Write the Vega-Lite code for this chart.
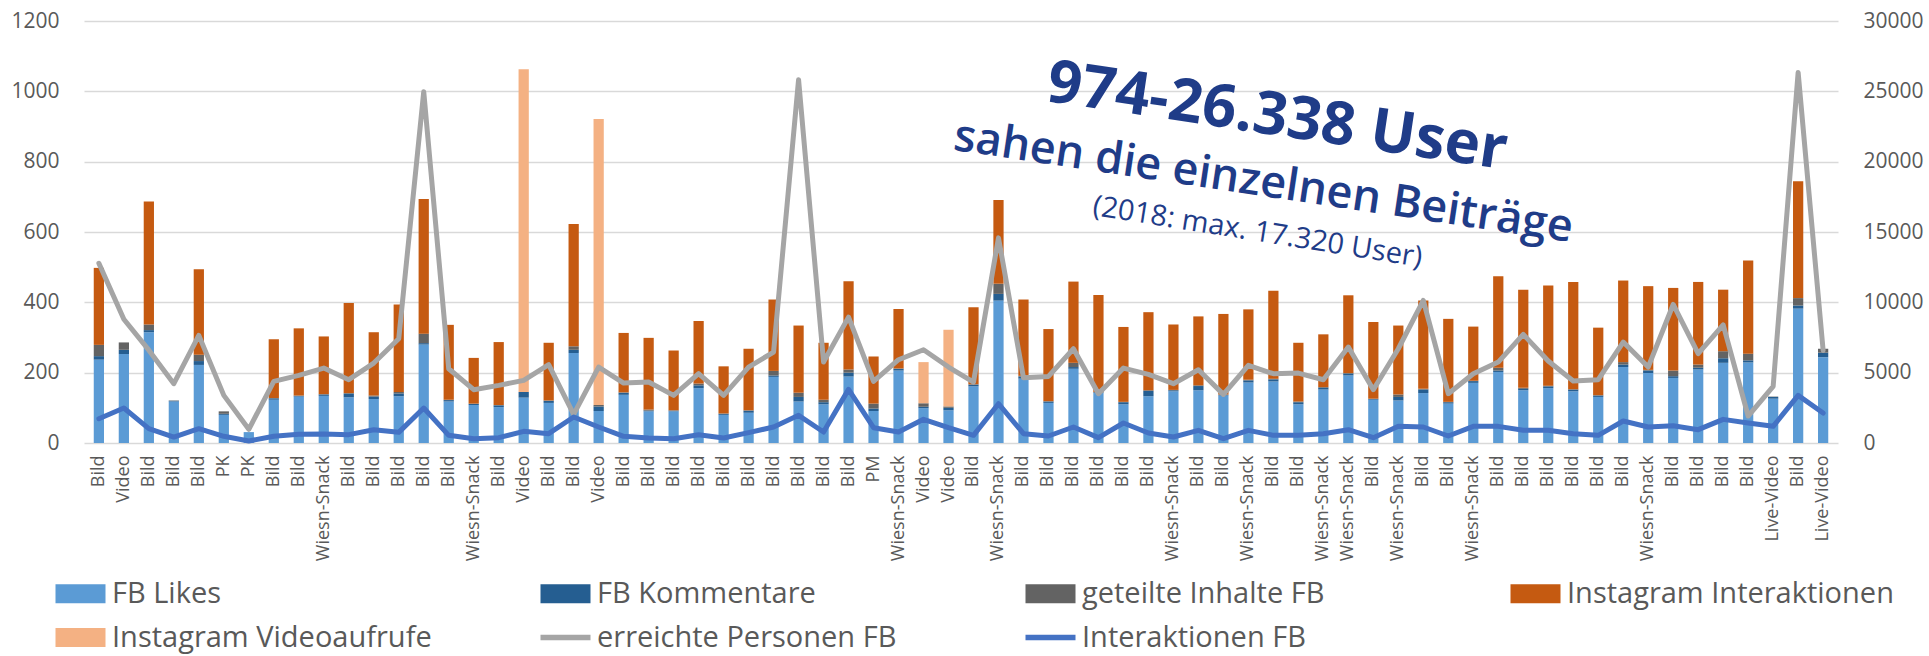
{
"$schema": "https://vega.github.io/schema/vega-lite/v6.json",
"width": 1754, "height": 422,
"autosize": {"type": "none"},
"padding": {"left": 84, "top": 21, "right": 91, "bottom": 213},
"background": "white",
"config": {"view": {"stroke": null}, "font": "Open Sans", "axis": {"labelFont": "Open Sans"}},
"data": {"values": [
{"p":"01 Bild","a_likes":237,"b_komm":10,"c_geteilt":32,"d_insta":219,"e_video":0,"f_reach":12775,"g_inter":1729},
{"p":"02 Video","a_likes":253,"b_komm":12,"c_geteilt":21,"d_insta":0,"e_video":0,"f_reach":8800,"g_inter":2486},
{"p":"03 Bild","a_likes":315,"b_komm":6,"c_geteilt":16,"d_insta":350,"e_video":0,"f_reach":6600,"g_inter":1018},
{"p":"04 Bild","a_likes":118,"b_komm":2,"c_geteilt":1,"d_insta":0,"e_video":0,"f_reach":4215,"g_inter":426},
{"p":"05 Bild","a_likes":222,"b_komm":11,"c_geteilt":18,"d_insta":243,"e_video":0,"f_reach":7649,"g_inter":1018},
{"p":"06 PK","a_likes":80,"b_komm":3,"c_geteilt":7,"d_insta":0,"e_video":0,"f_reach":3386,"g_inter":474},
{"p":"07 PK","a_likes":31,"b_komm":0,"c_geteilt":0,"d_insta":0,"e_video":0,"f_reach":974,"g_inter":142},
{"p":"08 Bild","a_likes":123,"b_komm":4,"c_geteilt":1,"d_insta":167,"e_video":0,"f_reach":4381,"g_inter":474},
{"p":"09 Bild","a_likes":132,"b_komm":2,"c_geteilt":1,"d_insta":191,"e_video":0,"f_reach":4807,"g_inter":616},
{"p":"10 Wiesn-Snack","a_likes":134,"b_komm":4,"c_geteilt":1,"d_insta":164,"e_video":0,"f_reach":5328,"g_inter":639},
{"p":"11 Bild","a_likes":130,"b_komm":10,"c_geteilt":2,"d_insta":256,"e_video":0,"f_reach":4500,"g_inter":592},
{"p":"12 Bild","a_likes":125,"b_komm":7,"c_geteilt":3,"d_insta":180,"e_video":0,"f_reach":5683,"g_inter":947},
{"p":"13 Bild","a_likes":133,"b_komm":8,"c_geteilt":4,"d_insta":249,"e_video":0,"f_reach":7412,"g_inter":758},
{"p":"14 Bild","a_likes":280,"b_komm":4,"c_geteilt":27,"d_insta":383,"e_video":0,"f_reach":24975,"g_inter":2486},
{"p":"15 Bild","a_likes":118,"b_komm":4,"c_geteilt":1,"d_insta":213,"e_video":0,"f_reach":5281,"g_inter":545},
{"p":"16 Wiesn-Snack","a_likes":108,"b_komm":3,"c_geteilt":1,"d_insta":130,"e_video":0,"f_reach":3789,"g_inter":308},
{"p":"17 Bild","a_likes":102,"b_komm":5,"c_geteilt":1,"d_insta":179,"e_video":0,"f_reach":4097,"g_inter":379},
{"p":"18 Video","a_likes":129,"b_komm":16,"c_geteilt":0,"d_insta":0,"e_video":918,"f_reach":4452,"g_inter":829},
{"p":"19 Bild","a_likes":114,"b_komm":6,"c_geteilt":1,"d_insta":164,"e_video":0,"f_reach":5565,"g_inter":663},
{"p":"20 Bild","a_likes":256,"b_komm":9,"c_geteilt":10,"d_insta":348,"e_video":0,"f_reach":2036,"g_inter":1847},
{"p":"21 Video","a_likes":91,"b_komm":13,"c_geteilt":4,"d_insta":0,"e_video":813,"f_reach":5399,"g_inter":1137},
{"p":"22 Bild","a_likes":137,"b_komm":6,"c_geteilt":1,"d_insta":169,"e_video":0,"f_reach":4262,"g_inter":474},
{"p":"23 Bild","a_likes":90,"b_komm":2,"c_geteilt":3,"d_insta":204,"e_video":0,"f_reach":4333,"g_inter":355},
{"p":"24 Bild","a_likes":90,"b_komm":2,"c_geteilt":1,"d_insta":170,"e_video":0,"f_reach":3386,"g_inter":308},
{"p":"25 Bild","a_likes":156,"b_komm":8,"c_geteilt":5,"d_insta":178,"e_video":0,"f_reach":4925,"g_inter":592},
{"p":"26 Bild","a_likes":80,"b_komm":3,"c_geteilt":1,"d_insta":134,"e_video":0,"f_reach":3386,"g_inter":355},
{"p":"27 Bild","a_likes":86,"b_komm":6,"c_geteilt":1,"d_insta":175,"e_video":0,"f_reach":5399,"g_inter":734},
{"p":"28 Bild","a_likes":188,"b_komm":4,"c_geteilt":13,"d_insta":203,"e_video":0,"f_reach":6465,"g_inter":1137},
{"p":"29 Bild","a_likes":118,"b_komm":13,"c_geteilt":12,"d_insta":191,"e_video":0,"f_reach":25830,"g_inter":1965},
{"p":"30 Bild","a_likes":110,"b_komm":6,"c_geteilt":7,"d_insta":162,"e_video":0,"f_reach":5754,"g_inter":781},
{"p":"31 Bild","a_likes":189,"b_komm":11,"c_geteilt":9,"d_insta":251,"e_video":0,"f_reach":8950,"g_inter":3812},
{"p":"32 PM","a_likes":91,"b_komm":7,"c_geteilt":14,"d_insta":134,"e_video":0,"f_reach":4381,"g_inter":1089},
{"p":"33 Wiesn-Snack","a_likes":206,"b_komm":5,"c_geteilt":1,"d_insta":169,"e_video":0,"f_reach":5920,"g_inter":781},
{"p":"34 Video","a_likes":99,"b_komm":4,"c_geteilt":10,"d_insta":0,"e_video":117,"f_reach":6630,"g_inter":1681},
{"p":"35 Video","a_likes":93,"b_komm":7,"c_geteilt":4,"d_insta":0,"e_video":218,"f_reach":5399,"g_inter":1089},
{"p":"36 Bild","a_likes":161,"b_komm":5,"c_geteilt":1,"d_insta":219,"e_video":0,"f_reach":4333,"g_inter":545},
{"p":"37 Wiesn-Snack","a_likes":405,"b_komm":19,"c_geteilt":29,"d_insta":238,"e_video":0,"f_reach":14584,"g_inter":2794},
{"p":"38 Bild","a_likes":183,"b_komm":6,"c_geteilt":2,"d_insta":217,"e_video":0,"f_reach":4641,"g_inter":663},
{"p":"39 Bild","a_likes":114,"b_komm":4,"c_geteilt":1,"d_insta":205,"e_video":0,"f_reach":4736,"g_inter":497},
{"p":"40 Bild","a_likes":211,"b_komm":5,"c_geteilt":12,"d_insta":231,"e_video":0,"f_reach":6701,"g_inter":1137},
{"p":"41 Bild","a_likes":142,"b_komm":2,"c_geteilt":1,"d_insta":276,"e_video":0,"f_reach":3505,"g_inter":379},
{"p":"42 Bild","a_likes":110,"b_komm":6,"c_geteilt":1,"d_insta":213,"e_video":0,"f_reach":5328,"g_inter":1421},
{"p":"43 Bild","a_likes":133,"b_komm":15,"c_geteilt":2,"d_insta":222,"e_video":0,"f_reach":4878,"g_inter":710},
{"p":"44 Wiesn-Snack","a_likes":147,"b_komm":3,"c_geteilt":1,"d_insta":186,"e_video":0,"f_reach":4215,"g_inter":426},
{"p":"45 Bild","a_likes":150,"b_komm":12,"c_geteilt":2,"d_insta":196,"e_video":0,"f_reach":5210,"g_inter":900},
{"p":"46 Bild","a_likes":135,"b_komm":2,"c_geteilt":1,"d_insta":229,"e_video":0,"f_reach":3457,"g_inter":308},
{"p":"47 Wiesn-Snack","a_likes":172,"b_komm":6,"c_geteilt":2,"d_insta":200,"e_video":0,"f_reach":5517,"g_inter":900},
{"p":"48 Bild","a_likes":175,"b_komm":6,"c_geteilt":2,"d_insta":250,"e_video":0,"f_reach":4925,"g_inter":545},
{"p":"49 Bild","a_likes":110,"b_komm":6,"c_geteilt":2,"d_insta":167,"e_video":0,"f_reach":4973,"g_inter":545},
{"p":"50 Wiesn-Snack","a_likes":152,"b_komm":5,"c_geteilt":2,"d_insta":150,"e_video":0,"f_reach":4499,"g_inter":663},
{"p":"51 Wiesn-Snack","a_likes":192,"b_komm":5,"c_geteilt":2,"d_insta":221,"e_video":0,"f_reach":6820,"g_inter":947},
{"p":"52 Bild","a_likes":123,"b_komm":2,"c_geteilt":1,"d_insta":218,"e_video":0,"f_reach":3789,"g_inter":379},
{"p":"53 Wiesn-Snack","a_likes":121,"b_komm":10,"c_geteilt":7,"d_insta":196,"e_video":0,"f_reach":6701,"g_inter":1184},
{"p":"54 Bild","a_likes":142,"b_komm":10,"c_geteilt":2,"d_insta":251,"e_video":0,"f_reach":10133,"g_inter":1137},
{"p":"55 Bild","a_likes":112,"b_komm":4,"c_geteilt":1,"d_insta":236,"e_video":0,"f_reach":3505,"g_inter":497},
{"p":"56 Wiesn-Snack","a_likes":171,"b_komm":5,"c_geteilt":1,"d_insta":154,"e_video":0,"f_reach":4925,"g_inter":1184},
{"p":"57 Bild","a_likes":202,"b_komm":4,"c_geteilt":8,"d_insta":260,"e_video":0,"f_reach":5754,"g_inter":1184},
{"p":"58 Bild","a_likes":150,"b_komm":4,"c_geteilt":3,"d_insta":279,"e_video":0,"f_reach":7720,"g_inter":900},
{"p":"59 Bild","a_likes":156,"b_komm":5,"c_geteilt":2,"d_insta":285,"e_video":0,"f_reach":5825,"g_inter":900},
{"p":"60 Bild","a_likes":147,"b_komm":5,"c_geteilt":1,"d_insta":305,"e_video":0,"f_reach":4404,"g_inter":663},
{"p":"61 Bild","a_likes":131,"b_komm":4,"c_geteilt":1,"d_insta":192,"e_video":0,"f_reach":4499,"g_inter":545},
{"p":"62 Bild","a_likes":216,"b_komm":7,"c_geteilt":7,"d_insta":232,"e_video":0,"f_reach":7175,"g_inter":1563},
{"p":"63 Wiesn-Snack","a_likes":199,"b_komm":7,"c_geteilt":2,"d_insta":238,"e_video":0,"f_reach":5399,"g_inter":1137},
{"p":"64 Bild","a_likes":185,"b_komm":5,"c_geteilt":16,"d_insta":235,"e_video":0,"f_reach":9849,"g_inter":1231},
{"p":"65 Bild","a_likes":209,"b_komm":5,"c_geteilt":9,"d_insta":235,"e_video":0,"f_reach":6346,"g_inter":947},
{"p":"66 Bild","a_likes":228,"b_komm":13,"c_geteilt":20,"d_insta":175,"e_video":0,"f_reach":8400,"g_inter":1681},
{"p":"67 Bild","a_likes":229,"b_komm":6,"c_geteilt":19,"d_insta":265,"e_video":0,"f_reach":1918,"g_inter":1421},
{"p":"68 Live-Video","a_likes":126,"b_komm":5,"c_geteilt":1,"d_insta":0,"e_video":0,"f_reach":4026,"g_inter":1184},
{"p":"69 Bild","a_likes":382,"b_komm":9,"c_geteilt":21,"d_insta":332,"e_video":0,"f_reach":26338,"g_inter":3386},
{"p":"70 Live-Video","a_likes":244,"b_komm":13,"c_geteilt":11,"d_insta":0,"e_video":0,"f_reach":6583,"g_inter":2131}
]},
"encoding": {
  "x": {"field": "p", "type": "ordinal", "title": null,
        "scale": {"paddingInner": 0.59, "paddingOuter": 0.39},
        "axis": {"title": null, "labelAngle": -90, "labelExpr": "substring(datum.value, 3)", "labelFontSize": 18, "labelColor": "#595959", "ticks": false, "domain": false, "labelPadding": 12, "grid": false}}
},
"layer": [
  {"layer": [
    {"transform": [{"fold": ["a_likes", "b_komm", "c_geteilt", "d_insta", "e_video"], "as": ["key", "val"]}],
     "mark": {"type": "bar"},
     "encoding": {
       "y": {"field": "val", "type": "quantitative", "stack": "zero", "title": null,
             "scale": {"domain": [0, 1200], "nice": false},
             "axis": {"title": null, "values": [0, 200, 400, 600, 800, 1000, 1200], "format": "d", "grid": true, "gridColor": "#D9D9D9", "gridWidth": 1.5, "domain": false, "ticks": false, "labelFontSize": 21, "labelColor": "#595959", "labelPadding": 25}},
       "color": {"field": "key", "type": "nominal",
                 "scale": {"domain": ["a_likes", "b_komm", "c_geteilt", "d_insta", "e_video", "f_reach", "g_inter"],
                           "range": ["#5B9BD5", "#255E91", "#636363", "#C55A11", "#F4B183", "#A5A5A5", "#4472C4"]},
                 "legend": {"title": null, "orient": "none", "legendX": -18, "legendY": 558, "direction": "horizontal", "columns": 4, "gridAlign": "all", "columnPadding": 101, "rowPadding": 14, "padding": 0,
                            "labelFontSize": 29, "labelColor": "#595959", "labelFont": "Open Sans", "labelOffset": 17, "labelLimit": 500, "symbolSize": 400,
                            "labelExpr": "datum.label == 'a_likes' ? 'FB Likes' : datum.label == 'b_komm' ? 'FB Kommentare' : datum.label == 'c_geteilt' ? 'geteilte Inhalte FB' : datum.label == 'd_insta' ? 'Instagram Interaktionen' : datum.label == 'e_video' ? 'Instagram Videoaufrufe' : datum.label == 'f_reach' ? 'erreichte Personen FB' : 'Interaktionen FB'",
                            "encode": {"symbols": {"update": {
                              "shape": {"signal": "(datum.value == 'f_reach' || datum.value == 'g_inter') ? 'M-2.5,-0.28H2.5V0.28H-2.5Z' : 'M-2.5,-0.95H2.5V0.95H-2.5Z'"},
                              "fill": {"scale": "color", "field": "value"},
                              "stroke": {"value": "transparent"},
                              "strokeWidth": {"value": 0},
                              "opacity": {"value": 1}}}}}},
       "order": {"field": "key", "sort": "ascending"}
     }},
    {"data": {"values": [{}]},
     "mark": {"type": "text", "text": "974-26.338 User", "font": "Open Sans", "fontSize": 60, "fontWeight": "bold", "color": "#1F3C88", "angle": 8.5, "align": "center", "baseline": "middle", "dx": 4},
     "encoding": {"x": {"datum": "48 Bild", "type": "ordinal", "title": null}, "y": {"datum": 928, "type": "quantitative", "title": null}}},
    {"data": {"values": [{}]},
     "mark": {"type": "text", "text": "sahen die einzelnen Beiträge", "font": "Open Sans", "fontSize": 45, "fontWeight": 600, "color": "#1F3C88", "angle": 8.5, "align": "center", "baseline": "middle", "dx": -10},
     "encoding": {"x": {"datum": "48 Bild", "type": "ordinal", "title": null}, "y": {"datum": 738, "type": "quantitative", "title": null}}},
    {"data": {"values": [{}]},
     "mark": {"type": "text", "text": "(2018: max. 17.320 User)", "font": "Open Sans", "fontSize": 29, "fontWeight": "normal", "color": "#1F3C88", "angle": 9, "align": "center", "baseline": "middle", "dx": -16},
     "encoding": {"x": {"datum": "48 Bild", "type": "ordinal", "title": null}, "y": {"datum": 593, "type": "quantitative", "title": null}}}
  ]},
  {"transform": [{"fold": ["f_reach", "g_inter"], "as": ["key", "val"]}],
   "mark": {"type": "line", "strokeWidth": 5, "strokeCap": "round", "strokeJoin": "round"},
   "encoding": {
     "y": {"field": "val", "type": "quantitative", "title": null,
           "scale": {"domain": [0, 30000], "nice": false},
           "axis": {"title": null, "orient": "right", "values": [0, 5000, 10000, 15000, 20000, 25000, 30000], "format": "d", "grid": false, "domain": false, "ticks": false, "labelFontSize": 21, "labelColor": "#595959", "labelPadding": 25}},
     "color": {"field": "key", "type": "nominal",
               "scale": {"domain": ["a_likes", "b_komm", "c_geteilt", "d_insta", "e_video", "f_reach", "g_inter"],
                         "range": ["#5B9BD5", "#255E91", "#636363", "#C55A11", "#F4B183", "#A5A5A5", "#4472C4"]}}
   }}
],
"resolve": {"scale": {"y": "independent"}}
}
